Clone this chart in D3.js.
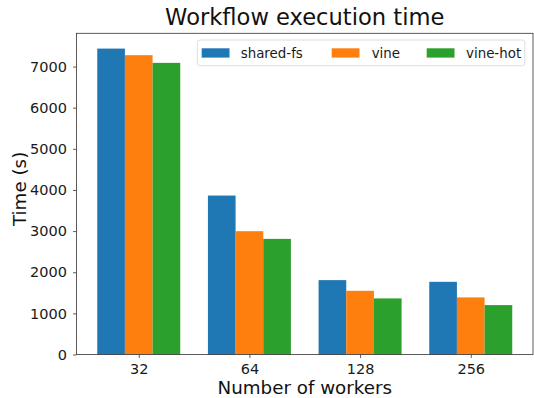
<!DOCTYPE html>
<html>
<head>
<meta charset="utf-8">
<script src="https://cdn.jsdelivr.net/npm/d3@7/dist/d3.min.js"></script>
<style>
  html, body { margin: 0; padding: 0; background: #fff; }
  svg { display: block; font-family: "DejaVu Sans", sans-serif; }
</style>
</head>
<body>
<svg id="chart" width="534" height="398"></svg>
<script>
// Worker counts on the x axis
const workers = ["32", "64", "128", "256"];
// Execution time (s) per storage mode
const sharedFs = [7437, 3864, 1808, 1767];
const vine     = [7277, 2998, 1549, 1388];
const vineHot  = [7090, 2811, 1364, 1201];
const seriesNames = ["shared-fs", "vine", "vine-hot"];
const seriesColors = ["#1f77b4", "#ff7f0e", "#2ca02c"];
const yTicks = [0, 1000, 2000, 3000, 4000, 5000, 6000, 7000];

const series = [sharedFs, vine, vineHot];

const svg = d3.select("#chart");
const plotLeft = 76.5, plotRight = 533, plotTop = 33.3, plotBottom = 354.5;

const barW = 0.25;
const x = d3.scaleLinear()
  .domain([-0.375 - 0.1875, workers.length - 1 + 0.375 + 0.1875])
  .range([plotLeft, plotRight]);
const ymax = d3.max(series.flat()) * 1.05;
const y = d3.scaleLinear().domain([0, ymax]).range([plotBottom, plotTop]);

// Bars
series.forEach((vals, si) => {
  svg.append("g").selectAll("rect")
    .data(vals)
    .join("rect")
    .attr("x", (d, i) => x(i + (si - 1) * barW - barW / 2))
    .attr("width", x(barW) - x(0))
    .attr("y", d => y(d))
    .attr("height", d => y(0) - y(d))
    .attr("fill", seriesColors[si]);
});

// Axes
const xAxis = d3.axisBottom(x)
  .tickValues(workers.map((_, i) => i))
  .tickFormat(i => workers[i])
  .tickSize(3.5).tickPadding(5.3);
const yAxis = d3.axisLeft(y)
  .tickValues(yTicks)
  .tickFormat(d3.format("d"))
  .tickSize(3.5).tickPadding(6);

const gx = svg.append("g").attr("transform", `translate(0,${plotBottom})`).call(xAxis);
const gy = svg.append("g").attr("transform", `translate(${plotLeft},0)`).call(yAxis);
[gx, gy].forEach(g => {
  g.select(".domain").remove();
  g.selectAll("text").attr("font-size", 14.5).attr("fill", "#1a1a1a").attr("font-family", "DejaVu Sans, sans-serif");
  g.selectAll("line").attr("stroke", "#333").attr("stroke-width", 0.8);
});

// Spines
svg.append("rect")
  .attr("x", plotLeft).attr("y", plotTop)
  .attr("width", plotRight - plotLeft).attr("height", plotBottom - plotTop)
  .attr("fill", "none").attr("stroke", "#333").attr("stroke-width", 0.8);

// Title and axis labels
svg.append("text")
  .attr("x", (plotLeft + plotRight) / 2).attr("y", 24.5)
  .attr("text-anchor", "middle").attr("font-size", 22.6).attr("fill", "#111")
  .text("Workflow execution time");
svg.append("text")
  .attr("x", (plotLeft + plotRight) / 2).attr("y", 394)
  .attr("text-anchor", "middle").attr("font-size", 18.3).attr("fill", "#111")
  .text("Number of workers");
svg.append("text")
  .attr("transform", `translate(25.5,${(plotTop + plotBottom) / 2 - 5}) rotate(-90)`)
  .attr("text-anchor", "middle").attr("font-size", 18.3).attr("fill", "#111")
  .text("Time (s)");

// Legend
const legend = svg.append("g");
legend.append("rect")
  .attr("x", 197.3).attr("y", 40).attr("width", 327.5).attr("height", 25.7)
  .attr("rx", 2.5).attr("fill", "#fff").attr("fill-opacity", 0.8)
  .attr("stroke", "#d6d6d6").attr("stroke-width", 0.8);
const patchX = [201.7, 331.7, 426.7];
const textX = [240.7, 371.7, 466];
seriesNames.forEach((name, i) => {
  legend.append("rect")
    .attr("x", patchX[i]).attr("y", 48.3)
    .attr("width", 27.8).attr("height", 9.3)
    .attr("fill", seriesColors[i]);
  legend.append("text")
    .attr("x", textX[i]).attr("y", 57.8)
    .attr("font-size", 13.4).attr("fill", "#1a1a1a")
    .text(name);
});
</script>
</body>
</html>
